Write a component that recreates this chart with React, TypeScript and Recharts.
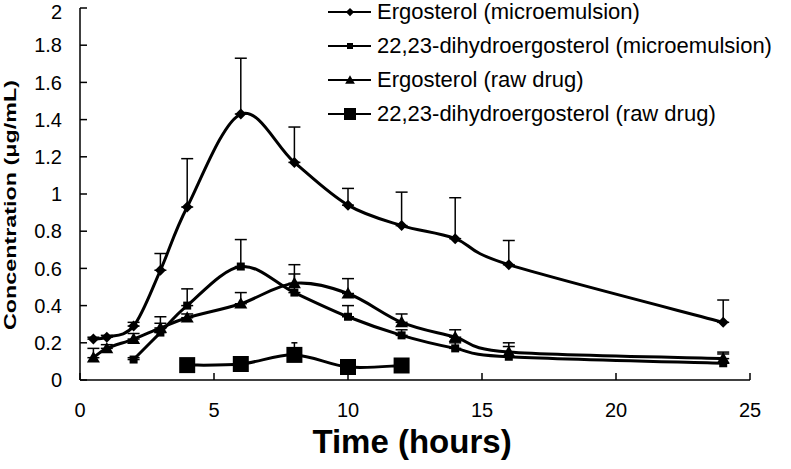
import { LineChart, Line, XAxis, YAxis, ErrorBar, Legend } from "recharts";

const FONT = "'Liberation Sans', Arial, sans-serif";

const timeTicks = [0, 5, 10, 15, 20, 25];
const concTicks = [0, 0.2, 0.4, 0.6, 0.8, 1, 1.2, 1.4, 1.6, 1.8, 2];

const seriesNames = [
  "Ergosterol (microemulsion)",
  "22,23-dihydroergosterol (microemulsion)",
  "Ergosterol (raw drug)",
  "22,23-dihydroergosterol (raw drug)",
];

// Ergosterol (microemulsion)
const ergoMicroTime = [0.5, 1, 2, 3, 4, 6, 8, 10, 12, 14, 16, 24];
const ergoMicroConc = [0.22, 0.23, 0.29, 0.59, 0.93, 1.43, 1.17, 0.94, 0.83, 0.76, 0.62, 0.31];
const ergoMicroSd = [0.01, 0.01, 0.02, 0.09, 0.26, 0.3, 0.19, 0.09, 0.18, 0.22, 0.13, 0.12];

// 22,23-dihydroergosterol (microemulsion)
const dhMicroTime = [2, 3, 4, 6, 8, 10, 12, 14, 16, 24];
const dhMicroConc = [0.11, 0.255, 0.4, 0.61, 0.47, 0.34, 0.24, 0.17, 0.125, 0.09];
const dhMicroSd = [0.01, 0.05, 0.09, 0.145, 0.1, 0.06, 0.03, 0.03, 0.055, 0.05];

// Ergosterol (raw drug)
const ergoRawTime = [0.5, 1, 2, 3, 4, 6, 8, 10, 12, 14, 16, 24];
const ergoRawConc = [0.12, 0.17, 0.22, 0.28, 0.335, 0.41, 0.52, 0.465, 0.31, 0.23, 0.15, 0.115];
const ergoRawSd = [0.05, 0.02, 0.03, 0.06, 0.02, 0.06, 0.1, 0.08, 0.045, 0.04, 0.05, 0.035];

// 22,23-dihydroergosterol (raw drug)
const dhRawTime = [4, 6, 8, 10, 12];
const dhRawConc = [0.08, 0.086, 0.135, 0.07, 0.078];
const dhRawSd = [0.005, 0.005, 0.065, 0.005, 0.005];

const build = (t: number[], c: number[], sd: number[]) =>
  t.map((time, i) => ({ time, conc: c[i], err: [0, sd[i]] }));

const ergoMicro = build(ergoMicroTime, ergoMicroConc, ergoMicroSd);
const dhMicro = build(dhMicroTime, dhMicroConc, dhMicroSd);
const ergoRaw = build(ergoRawTime, ergoRawConc, ergoRawSd);
const dhRaw = build(dhRawTime, dhRawConc, dhRawSd);

// Excel-like smoothed line (Catmull-Rom style bezier)
function smoothCurve(context: any) {
  let pts: [number, number][] = [];
  return {
    areaStart() {},
    areaEnd() {},
    lineStart() {
      pts = [];
    },
    lineEnd() {
      if (!pts.length) return;
      context.moveTo(pts[0][0], pts[0][1]);
      for (let i = 0; i < pts.length - 1; i++) {
        const p0 = pts[Math.max(i - 1, 0)];
        const p1 = pts[i];
        const p2 = pts[i + 1];
        const p3 = pts[Math.min(i + 2, pts.length - 1)];
        context.bezierCurveTo(
          p1[0] + (p2[0] - p0[0]) / 6,
          p1[1] + (p2[1] - p0[1]) / 6,
          p2[0] - (p3[0] - p1[0]) / 6,
          p2[1] - (p3[1] - p1[1]) / 6,
          p2[0],
          p2[1]
        );
      }
    },
    point(x: number, y: number) {
      pts.push([x, y]);
    },
  };
}

type Shape = "diamond" | "square" | "triangle" | "bigSquare";
const shapes: Shape[] = ["diamond", "square", "triangle", "bigSquare"];

function markerPath(shape: Shape, cx: number, cy: number, k = 1) {
  if (shape === "diamond") {
    const s = 5.5 * k;
    return `M${cx},${cy - s}L${cx + s},${cy}L${cx},${cy + s}L${cx - s},${cy}Z`;
  }
  if (shape === "square") {
    const s = 4 * k;
    return `M${cx - s},${cy - s}h${2 * s}v${2 * s}h${-2 * s}Z`;
  }
  if (shape === "triangle") {
    const s = 6.5 * k;
    return `M${cx},${cy - s}L${cx + s},${cy + s * 0.75}L${cx - s},${cy + s * 0.75}Z`;
  }
  const s = 8 * k;
  return `M${cx - s},${cy - s}h${2 * s}v${2 * s}h${-2 * s}Z`;
}

const makeDot = (shape: Shape) => (props: any) => {
  const { cx, cy, index } = props;
  if (cx == null || cy == null) return <g key={index} />;
  return <path key={index} d={markerPath(shape, cx, cy)} fill="#000" />;
};

function LegendContent() {
  return (
    <div style={{ fontFamily: FONT, fontSize: 22, color: "#000" }}>
      {seriesNames.map((name, i) => (
        <div
          key={name}
          style={{ display: "flex", alignItems: "center", height: 34, whiteSpace: "nowrap" }}
        >
          <svg width={43} height={34}>
            <line x1={0} x2={43} y1={17} y2={17} stroke="#000" strokeWidth={2} />
            <path d={markerPath(shapes[i], 22, 17, 0.75)} fill="#000" />
          </svg>
          <span style={{ marginLeft: 6 }}>{name}</span>
        </div>
      ))}
    </div>
  );
}

// y tick label; the top one is nudged down so it stays inside the picture
function YTick(props: any) {
  const { x, y, payload } = props;
  const shift = payload.value === 2 ? 4 : 0;
  return (
    <text
      x={x}
      y={y + shift}
      dy="0.355em"
      textAnchor="end"
      fontFamily={FONT}
      fontSize={20}
      fill="#000"
    >
      {payload.value}
    </text>
  );
}

const YTitle = () => (
  <text
    x={16}
    y={205}
    transform="rotate(-90 16 205)"
    textAnchor="middle"
    fontFamily={FONT}
    fontWeight="bold"
    fontSize={17}
    textLength={250}
    lengthAdjust="spacingAndGlyphs"
    fill="#000"
  >
    Concentration (μg/mL)
  </text>
);

const XTitle = () => (
  <text
    x={412}
    y={453}
    textAnchor="middle"
    fontFamily={FONT}
    fontWeight="bold"
    fontSize={33}
    fill="#000"
  >
    Time (hours)
  </text>
);

const tickStyle = { fill: "#000", fontSize: 20, fontFamily: FONT };

export default function App() {
  return (
    <div style={{ position: "absolute", left: 0, top: 0, background: "#fff" }}>
      <LineChart
        width={791}
        height={469}
        margin={{ top: 8, right: 41, bottom: 29, left: 0 }}
      >
        <XAxis
          type="number"
          dataKey="time"
          domain={[0, 25]}
          ticks={timeTicks}
          interval={0}
          height={60}
          tick={tickStyle}
          tickSize={-7}
          tickMargin={30}
          axisLine={{ stroke: "#000", strokeWidth: 1.5 }}
          tickLine={{ stroke: "#000", strokeWidth: 1.5 }}
          label={<XTitle />}
        />
        <YAxis
          type="number"
          domain={[0, 2]}
          ticks={concTicks}
          interval={0}
          width={80}
          tick={<YTick />}
          tickSize={-7}
          tickMargin={25}
          axisLine={{ stroke: "#000", strokeWidth: 1.5 }}
          tickLine={{ stroke: "#000", strokeWidth: 1.5 }}
          label={<YTitle />}
        />
        <Legend
          layout="vertical"
          align="center"
          verticalAlign="middle"
          content={<LegendContent />}
          wrapperStyle={{ position: "absolute", left: 328, top: -5, width: 460 }}
        />

        <Line
          name={seriesNames[0]}
          data={ergoMicro}
          dataKey="conc"
          type={smoothCurve as any}
          stroke="#000"
          strokeWidth={3}
          dot={makeDot("diamond")}
          activeDot={false}
          isAnimationActive={false}
        >
          <ErrorBar dataKey="err" direction="y" width={6} stroke="#000" strokeWidth={1.5} />
        </Line>
        <Line
          name={seriesNames[1]}
          data={dhMicro}
          dataKey="conc"
          type={smoothCurve as any}
          stroke="#000"
          strokeWidth={3}
          dot={makeDot("square")}
          activeDot={false}
          isAnimationActive={false}
        >
          <ErrorBar dataKey="err" direction="y" width={6} stroke="#000" strokeWidth={1.5} />
        </Line>
        <Line
          name={seriesNames[2]}
          data={ergoRaw}
          dataKey="conc"
          type={smoothCurve as any}
          stroke="#000"
          strokeWidth={3}
          dot={makeDot("triangle")}
          activeDot={false}
          isAnimationActive={false}
        >
          <ErrorBar dataKey="err" direction="y" width={6} stroke="#000" strokeWidth={1.5} />
        </Line>
        <Line
          name={seriesNames[3]}
          data={dhRaw}
          dataKey="conc"
          type={smoothCurve as any}
          stroke="#000"
          strokeWidth={3}
          dot={makeDot("bigSquare")}
          activeDot={false}
          isAnimationActive={false}
        >
          <ErrorBar dataKey="err" direction="y" width={3} stroke="#000" strokeWidth={1.5} />
        </Line>
      </LineChart>
    </div>
  );
}
